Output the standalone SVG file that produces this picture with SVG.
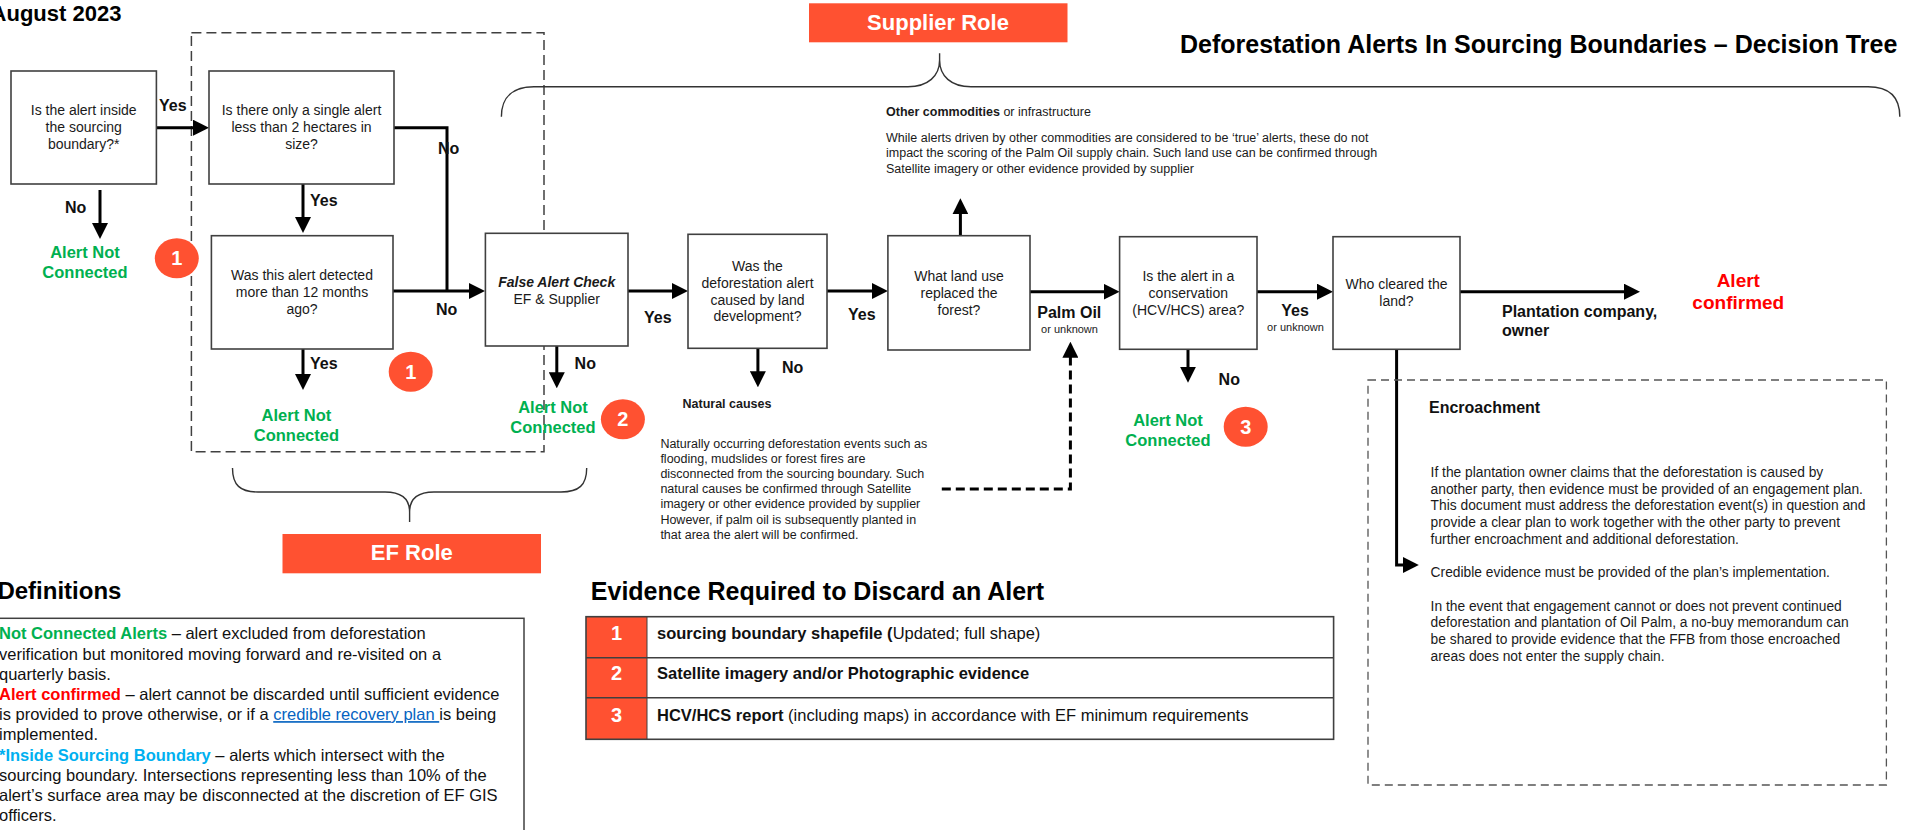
<svg xmlns="http://www.w3.org/2000/svg" width="1915" height="830" viewBox="0 0 1915 830">
  <defs>
    <marker id="arr" viewBox="0 0 16 16" refX="12" refY="8" markerWidth="16" markerHeight="16" markerUnits="userSpaceOnUse" orient="auto">
      <path d="M0,0 L16,8 L0,16 z" fill="#000"/>
    </marker>
    <style>
      text { font-family: "Liberation Sans", Arial, sans-serif; }
      .box { fill: #fff; stroke: #404040; stroke-width: 1.6; }
      .bt { font-size: 14px; fill: #1a1a1a; text-anchor: middle; }
      .lbl { font-size: 16px; font-weight: bold; fill: #111; }
      .sub { font-size: 11px; fill: #222; text-anchor: middle; }
      .anc { font-size: 16.5px; font-weight: bold; fill: #00B050; text-anchor: middle; }
      .badge { fill: #FF5131; }
      .badget { font-size: 20px; font-weight: bold; fill: #fff; text-anchor: middle; }
      .role { fill: #FF5131; }
      .rolet { font-size: 22px; font-weight: bold; fill: #fff; text-anchor: middle; }
      .small { font-size: 12.5px; fill: #1a1a1a; }
      .enc { font-size: 13.8px; fill: #1a1a1a; }
      .def { font-size: 16.5px; fill: #111; }
      .tbl { font-size: 16.5px; fill: #111; }
      .b { font-weight: bold; }
      .conn { fill: none; stroke: #000; stroke-width: 3; }
      .dash { fill: none; stroke: #404040; stroke-width: 1.5; stroke-dasharray: 10 5; }
      .brace { fill: none; stroke: #333; stroke-width: 1.4; }
      .h { font-weight: bold; fill: #000; }
    </style>
  </defs>

  <rect x="0" y="0" width="1915" height="830" fill="#fff"/>

  <!-- headings -->
  <text class="h" x="121.4" y="20.5" font-size="22" text-anchor="end">August 2023</text>
  <text class="h" x="1180" y="53" font-size="25">Deforestation Alerts In Sourcing Boundaries – Decision Tree</text>

  <!-- role markers and braces -->
  <g id="ef-scope">
    <rect class="dash" x="191.4" y="32.7" width="352.6" height="419"/>
    <path class="brace" d="M232.5,468 C232.5,485 240,492 258,492 L385,492 C400,492 409.6,498 409.6,512 L409.6,522 M409.6,512 C409.6,498 419,492 434,492 L561,492 C579,492 586.7,485 586.7,468"/>
    <rect class="role" x="282.5" y="534" width="258.5" height="39.3"/>
    <text class="rolet" x="411.8" y="559.7">EF Role</text>
  </g>
  <g id="supplier-scope">
    <path class="brace" d="M501.4,116.7 C501.4,96 514,86.7 534,86.7 L908,86.7 C928,86.7 939.6,76 939.6,60 L939.6,53.3 M939.6,60 C939.6,76 951,86.7 971,86.7 L1868,86.7 C1888,86.7 1899.8,96 1899.8,116.7"/>
    <rect class="role" x="809" y="3.3" width="258.5" height="39"/>
    <text class="rolet" x="938" y="30">Supplier Role</text>
  </g>

  <!-- connectors -->
  <g id="connectors">
    <path class="conn" d="M156,127.7 H205" marker-end="url(#arr)"/>
    <path class="conn" d="M100,190 V235" marker-end="url(#arr)"/>
    <path class="conn" d="M303,184 V229" marker-end="url(#arr)"/>
    <path class="conn" d="M394,127.7 H447 V291"/>
    <path class="conn" d="M393,291 H481" marker-end="url(#arr)"/>
    <path class="conn" d="M303,349 V386" marker-end="url(#arr)"/>
    <path class="conn" d="M628,291 H684" marker-end="url(#arr)"/>
    <path class="conn" d="M556.8,346 V384.3" marker-end="url(#arr)"/>
    <path class="conn" d="M827,291 H883.9" marker-end="url(#arr)"/>
    <path class="conn" d="M757.9,348.3 V383.3" marker-end="url(#arr)"/>
    <path class="conn" d="M960.4,235.7 V202.3" marker-end="url(#arr)"/>
    <path class="conn" d="M1030,291.7 H1115.6" marker-end="url(#arr)"/>
    <path class="conn" d="M1188,349.3 V378.7" marker-end="url(#arr)"/>
    <path class="conn" d="M1257,291.7 H1329" marker-end="url(#arr)"/>
    <path class="conn" d="M1460,291.7 H1636" marker-end="url(#arr)"/>
    <path class="conn" d="M1396.6,349.3 V565 H1414.8" marker-end="url(#arr)"/>
    <path class="conn" d="M941.8,489 H1070.4 V345.7" stroke-dasharray="9 5" marker-end="url(#arr)"/>

    <text class="lbl" x="159" y="111">Yes</text>
    <text class="lbl" x="65" y="213">No</text>
    <text class="lbl" x="310" y="206">Yes</text>
    <text class="lbl" x="438" y="154">No</text>
    <text class="lbl" x="310" y="369">Yes</text>
    <text class="lbl" x="436" y="315">No</text>
    <text class="lbl" x="574.6" y="369">No</text>
    <text class="lbl" x="644" y="322.7">Yes</text>
    <text class="lbl" x="848" y="320">Yes</text>
    <text class="lbl" x="782" y="373">No</text>
    <text class="lbl" x="1069.3" y="317.5" text-anchor="middle">Palm Oil</text>
    <text class="sub" x="1069.5" y="333">or unknown</text>
    <text class="lbl" x="1218.6" y="385">No</text>
    <text class="lbl" x="1295" y="316" text-anchor="middle">Yes</text>
    <text class="sub" x="1295.5" y="330.5">or unknown</text>
    <text class="lbl" x="1502" y="317" font-size="14.6">Plantation company,</text>
    <text class="lbl" x="1502" y="336" font-size="14.6">owner</text>
  </g>

  <!-- decision nodes -->
  <g id="q-inside-boundary">
    <rect class="box" x="11" y="71" width="145.4" height="113"/>
    <text class="bt" x="83.7" y="115">Is the alert inside</text>
    <text class="bt" x="83.7" y="132">the sourcing</text>
    <text class="bt" x="83.7" y="149">boundary?*</text>
  </g>
  <g id="q-single-alert">
    <rect class="box" x="209" y="71" width="185" height="113"/>
    <text class="bt" x="301.5" y="115">Is there only a single alert</text>
    <text class="bt" x="301.5" y="132">less than 2 hectares in</text>
    <text class="bt" x="301.5" y="149">size?</text>
  </g>
  <g id="q-older-12-months">
    <rect class="box" x="211.4" y="235.7" width="181.6" height="113.3"/>
    <text class="bt" x="302" y="280">Was this alert detected</text>
    <text class="bt" x="302" y="297">more than 12 months</text>
    <text class="bt" x="302" y="314">ago?</text>
  </g>
  <g id="false-alert-check">
    <rect class="box" x="485.4" y="233.3" width="142.6" height="112.7"/>
    <text class="bt" x="556.7" y="287" font-weight="bold" font-style="italic">False Alert Check</text>
    <text class="bt" x="556.7" y="303.5">EF &amp; Supplier</text>
  </g>
  <g id="q-land-development">
    <rect class="box" x="688" y="234.3" width="139" height="114"/>
    <text class="bt" x="757.5" y="271">Was the</text>
    <text class="bt" x="757.5" y="288">deforestation alert</text>
    <text class="bt" x="757.5" y="304.5">caused by land</text>
    <text class="bt" x="757.5" y="321">development?</text>
  </g>
  <g id="q-land-use">
    <rect class="box" x="887.9" y="235.7" width="142.1" height="114.3"/>
    <text class="bt" x="959" y="281">What land use</text>
    <text class="bt" x="959" y="298">replaced the</text>
    <text class="bt" x="959" y="314.5">forest?</text>
  </g>
  <g id="q-conservation">
    <rect class="box" x="1119.6" y="236.7" width="137.4" height="112.6"/>
    <text class="bt" x="1188.3" y="281">Is the alert in a</text>
    <text class="bt" x="1188.3" y="298">conservation</text>
    <text class="bt" x="1188.3" y="314.5">(HCV/HCS) area?</text>
  </g>
  <g id="q-who-cleared">
    <rect class="box" x="1333" y="236.7" width="127" height="112.6"/>
    <text class="bt" x="1396.5" y="289">Who cleared the</text>
    <text class="bt" x="1396.5" y="305.7">land?</text>
  </g>

  <!-- outcomes -->
  <g id="not-connected-1">
    <text class="anc" x="85" y="257.7">Alert Not</text>
    <text class="anc" x="85" y="277.7">Connected</text>
  </g>
  <g id="not-connected-2">
    <text class="anc" x="296.4" y="421">Alert Not</text>
    <text class="anc" x="296.4" y="441">Connected</text>
  </g>
  <g id="not-connected-3">
    <text class="anc" x="553" y="413.3">Alert Not</text>
    <text class="anc" x="553" y="433.3">Connected</text>
  </g>
  <g id="not-connected-4">
    <text class="anc" x="1168" y="426">Alert Not</text>
    <text class="anc" x="1168" y="446">Connected</text>
  </g>
  <g id="alert-confirmed">
    <text x="1738.3" y="287" font-size="19" font-weight="bold" fill="#FF0000" text-anchor="middle">Alert</text>
    <text x="1738.3" y="308.7" font-size="19" font-weight="bold" fill="#FF0000" text-anchor="middle">confirmed</text>
  </g>

  <!-- evidence badges -->
  <g id="badge-1a">
    <ellipse class="badge" cx="176.8" cy="258.3" rx="22" ry="20"/>
    <text class="badget" x="176.8" y="265.3">1</text>
  </g>
  <g id="badge-1b">
    <ellipse class="badge" cx="410.7" cy="371.7" rx="22" ry="20"/>
    <text class="badget" x="410.7" y="378.7">1</text>
  </g>
  <g id="badge-2">
    <ellipse class="badge" cx="622.9" cy="419.3" rx="22" ry="20"/>
    <text class="badget" x="622.9" y="426.3">2</text>
  </g>
  <g id="badge-3">
    <ellipse class="badge" cx="1245.7" cy="426.7" rx="22" ry="20"/>
    <text class="badget" x="1245.7" y="433.7">3</text>
  </g>

  <!-- notes -->
  <g id="note-other-commodities">
    <text class="small" x="886" y="116"><tspan class="b">Other commodities</tspan> or infrastructure</text>
    <text class="small" x="886" y="142">While alerts driven by other commodities are considered to be ‘true’ alerts, these do not</text>
    <text class="small" x="886" y="157.3">impact the scoring of the Palm Oil supply chain. Such land use can be confirmed through</text>
    <text class="small" x="886" y="172.6">Satellite imagery or other evidence provided by supplier</text>
  </g>
  <g id="note-natural-causes">
    <text class="small b" x="682.5" y="407.8">Natural causes</text>
    <text class="small" x="660.4" y="447.6">Naturally occurring deforestation events such as</text>
    <text class="small" x="660.4" y="462.8">flooding, mudslides or forest fires are</text>
    <text class="small" x="660.4" y="478">disconnected from the sourcing boundary. Such</text>
    <text class="small" x="660.4" y="493.2">natural causes be confirmed through Satellite</text>
    <text class="small" x="660.4" y="508.4">imagery or other evidence provided by supplier</text>
    <text class="small" x="660.4" y="523.6">However, if palm oil is subsequently planted in</text>
    <text class="small" x="660.4" y="538.8">that area the alert will be confirmed.</text>
  </g>
  <g id="note-encroachment">
    <rect x="1368" y="380" width="518.4" height="405" fill="none" stroke="#555" stroke-width="1.3" stroke-dasharray="8 5"/>
    <text x="1429" y="412.7" font-size="16" font-weight="bold" fill="#111">Encroachment</text>
    <text class="enc" x="1430.6" y="476.8">If the plantation owner claims that the deforestation is caused by</text>
    <text class="enc" x="1430.6" y="493.5">another party, then evidence must be provided of an engagement plan.</text>
    <text class="enc" x="1430.6" y="510.2">This document must address the deforestation event(s) in question and</text>
    <text class="enc" x="1430.6" y="526.9">provide a clear plan to work together with the other party to prevent</text>
    <text class="enc" x="1430.6" y="543.6">further encroachment and additional deforestation.</text>
    <text class="enc" x="1430.6" y="577">Credible evidence must be provided of the plan’s implementation.</text>
    <text class="enc" x="1430.6" y="610.6">In the event that engagement cannot or does not prevent continued</text>
    <text class="enc" x="1430.6" y="627.3">deforestation and plantation of Oil Palm, a no-buy memorandum can</text>
    <text class="enc" x="1430.6" y="644">be shared to provide evidence that the FFB from those encroached</text>
    <text class="enc" x="1430.6" y="660.7">areas does not enter the supply chain.</text>
  </g>

  <!-- definitions -->
  <g id="definitions">
    <text class="h" x="121.4" y="598.5" font-size="24" text-anchor="end">Definitions</text>
    <rect x="-2" y="618.3" width="526" height="220" fill="#fff" stroke="#404040" stroke-width="1.5"/>
    <text class="def" x="-1" y="639.3"><tspan class="b" fill="#00B050">Not Connected Alerts</tspan> – alert excluded from deforestation</text>
    <text class="def" x="-1" y="659.5">verification but monitored moving forward and re-visited on a</text>
    <text class="def" x="-1" y="679.7">quarterly basis.</text>
    <text class="def" x="-1" y="699.9"><tspan class="b" fill="#FF0000">Alert confirmed</tspan> – alert cannot be discarded until sufficient evidence</text>
    <text class="def" x="-1" y="720.1">is provided to prove otherwise, or if a <tspan fill="#0563C1" text-decoration="underline">credible recovery plan </tspan>is being</text>
    <text class="def" x="-1" y="740.3">implemented.</text>
    <text class="def" x="-1" y="760.5"><tspan class="b" fill="#00B0F0">*Inside Sourcing Boundary</tspan> – alerts which intersect with the</text>
    <text class="def" x="-1" y="780.7">sourcing boundary. Intersections representing less than 10% of the</text>
    <text class="def" x="-1" y="800.9">alert’s surface area may be disconnected at the discretion of EF GIS</text>
    <text class="def" x="-1" y="821.1">officers.</text>
  </g>

  <!-- evidence table -->
  <g id="evidence-table">
    <text class="h" x="590.8" y="600" font-size="25">Evidence Required to Discard an Alert</text>
    <rect x="586" y="616.7" width="747.6" height="122.6" fill="#fff"/>
    <rect x="586" y="616.7" width="61" height="122.6" fill="#FF5131"/>
    <rect x="586" y="616.7" width="747.6" height="122.6" fill="none" stroke="#404040" stroke-width="1.6"/>
    <line x1="586" y1="657.7" x2="1333.6" y2="657.7" stroke="#404040" stroke-width="1.6"/>
    <line x1="586" y1="697.7" x2="1333.6" y2="697.7" stroke="#404040" stroke-width="1.6"/>
    <line x1="647" y1="616.7" x2="647" y2="739.3" stroke="#404040" stroke-width="1"/>
    <text class="badget" x="616.5" y="640.3">1</text>
    <text class="badget" x="616.5" y="680.3">2</text>
    <text class="badget" x="616.5" y="722">3</text>
    <text class="tbl" x="657" y="639.3"><tspan class="b">sourcing boundary shapefile (</tspan>Updated; full shape)</text>
    <text class="tbl b" x="657" y="679.3">Satellite imagery and/or Photographic evidence</text>
    <text class="tbl" x="657" y="721"><tspan class="b">HCV/HCS report</tspan> (including maps) in accordance with EF minimum requirements</text>
  </g>
</svg>
